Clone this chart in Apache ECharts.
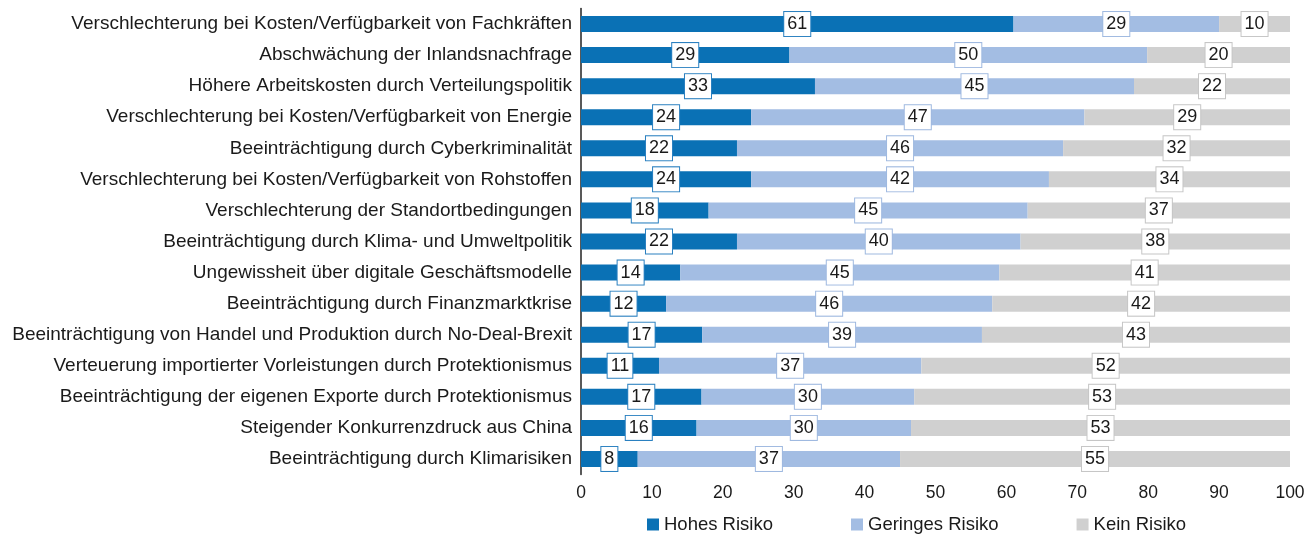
<!DOCTYPE html>
<html>
<head>
<meta charset="utf-8">
<script src="https://cdn.jsdelivr.net/npm/echarts@6/dist/echarts.min.js"></script>
<style>
  * { margin: 0; padding: 0; }
  html, body { width: 1316px; height: 535px; background: #fff; }
  #main { width: 1316px; height: 535px; }
</style>
</head>
<body>
<div id="main"></div>
<script>
// Kategorien (von oben nach unten)
var categories = [
  'Verschlechterung bei Kosten/Verfügbarkeit von Fachkräften',
  'Abschwächung der Inlandsnachfrage',
  'Höhere Arbeitskosten durch Verteilungspolitik',
  'Verschlechterung bei Kosten/Verfügbarkeit von Energie',
  'Beeinträchtigung durch Cyberkriminalität',
  'Verschlechterung bei Kosten/Verfügbarkeit von Rohstoffen',
  'Verschlechterung der Standortbedingungen',
  'Beeinträchtigung durch Klima- und Umweltpolitik',
  'Ungewissheit über digitale Geschäftsmodelle',
  'Beeinträchtigung durch Finanzmarktkrise',
  'Beeinträchtigung von Handel und Produktion durch No-Deal-Brexit',
  'Verteuerung importierter Vorleistungen durch Protektionismus',
  'Beeinträchtigung der eigenen Exporte durch Protektionismus',
  'Steigender Konkurrenzdruck aus China',
  'Beeinträchtigung durch Klimarisiken'
];
// Anteile in Prozent (aus dem Bild geschätzt)
var hohesRisiko    = [61, 29.4, 33, 24, 22, 24, 18, 22, 14, 12, 17.1, 11, 17, 16.3, 8];
var geringesRisiko = [29, 50.45, 45, 47, 46, 42, 45, 40, 45, 46, 39.45, 37, 30, 30.25, 37];
var keinRisiko     = [10, 20.15, 22, 29, 32, 34, 37, 38, 41, 42, 43.45, 52, 53, 53.45, 55];
var xTicks = [0, 100, 10]; // min, max, interval

var FONT = '"Liberation Sans", Arial, Helvetica, sans-serif';

function makeSeries(name, data, color, border) {
  return {
    name: name,
    type: 'bar',
    stack: 'gesamt',
    barWidth: 16,
    itemStyle: { color: color },
    label: {
      show: true,
      position: 'inside',
      formatter: function (p) { return Math.round(p.value); },
      color: '#1a1a1a',
      fontFamily: FONT,
      fontSize: 18,
      lineHeight: 18,
      backgroundColor: '#fff',
      borderColor: border,
      borderWidth: 1,
      padding: [3, 3, 3, 3]
    },
    emphasis: { disabled: true },
    data: data
  };
}

var chart = echarts.init(document.getElementById('main'));
chart.setOption({
  animation: false,
  textStyle: { fontFamily: FONT },
  grid: { left: 581, right: 26, top: 8.5, bottom: 60.5, containLabel: false },
  legend: {
    left: 647,
    top: 515,
    padding: 0,
    itemWidth: 12,
    itemHeight: 12,
    itemGap: 78,
    icon: 'rect',
    textStyle: { fontFamily: FONT, fontSize: 18.5, color: '#1a1a1a' },
    data: ['Hohes Risiko', 'Geringes Risiko', 'Kein Risiko']
  },
  xAxis: {
    type: 'value',
    min: xTicks[0],
    max: xTicks[1],
    interval: xTicks[2],
    axisLine: { show: false },
    axisTick: { show: false },
    splitLine: { show: false },
    axisLabel: { fontFamily: FONT, fontSize: 17.5, color: '#1a1a1a', margin: 10 }
  },
  yAxis: {
    type: 'category',
    inverse: true,
    data: categories,
    axisLine: { show: true, lineStyle: { color: '#222', width: 1.5 } },
    axisTick: { show: false },
    axisLabel: { fontFamily: FONT, fontSize: 19, color: '#1a1a1a', margin: 9 }
  },
  series: [
    makeSeries('Hohes Risiko', hohesRisiko, '#0a71b5', '#2a80c0'),
    makeSeries('Geringes Risiko', geringesRisiko, '#a3bde3', '#9fb9e0'),
    makeSeries('Kein Risiko', keinRisiko, '#d0d0d0', '#c6c6c6')
  ]
});
</script>
</body>
</html>
